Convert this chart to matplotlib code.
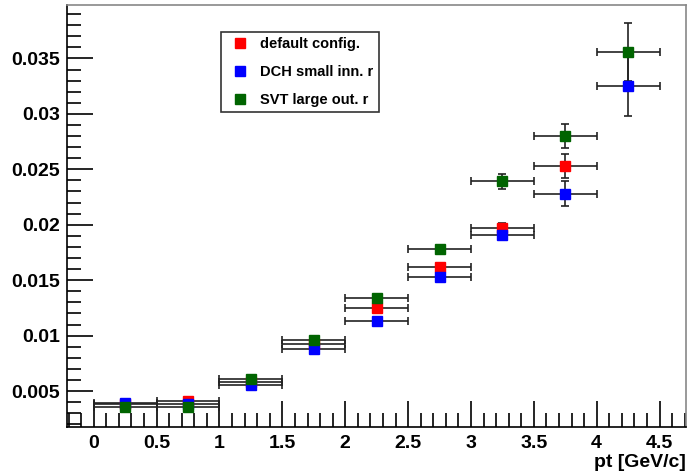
import matplotlib
matplotlib.use('Agg')
import matplotlib.pyplot as plt
from matplotlib.ticker import MultipleLocator, FormatStrFormatter
from matplotlib.lines import Line2D
import numpy as np

plt.rcParams['font.family'] = ['Liberation Sans', 'DejaVu Sans']
plt.rcParams['font.weight'] = 'bold'

# pt bins (centres) and half widths
pt = [0.25, 0.75, 1.25, 1.75, 2.25, 2.75, 3.25, 3.75, 4.25]
pt_err = [0.25] * 9

# default config. (no point in the last bin)
red_y = [0.0038, 0.0041, 0.0058, 0.0092, 0.0125, 0.0162, 0.0197, 0.0253]
red_err = [0.0002, 0.0002, 0.0002, 0.0002, 0.0002, 0.0003, 0.0005, 0.0011]

# DCH small inn. r
blue_y = [0.0039, 0.0038, 0.0055, 0.0088, 0.0113, 0.0153, 0.0191, 0.0228, 0.0325]
blue_err = [0.0002, 0.0002, 0.0002, 0.0002, 0.0002, 0.0003, 0.0005, 0.0011, 0.0027]

# SVT large out. r
green_y = [0.0036, 0.0036, 0.0061, 0.0096, 0.0134, 0.0178, 0.0239, 0.0280, 0.0356]
green_err = [0.0002, 0.0002, 0.0002, 0.0002, 0.0002, 0.0003, 0.0007, 0.0011, 0.0026]

labels = ['default config.', 'DCH small inn. r', 'SVT large out. r']
colors = ['#ff0000', '#0000ff', '#006400']

fig = plt.figure(figsize=(6.88, 4.74), dpi=100)
ax = fig.add_axes([0.097, 0.099, 0.9, 0.89])

series = [(red_y, red_err), (blue_y, blue_err), (green_y, green_err)]
for (y, yerr), col in zip(series, colors):
    n = len(y)
    ax.errorbar(pt[:n], y, xerr=pt_err[:n], yerr=yerr, fmt='s', color=col,
                markersize=6.5, ecolor='#222222', elinewidth=1.2,
                capsize=3, capthick=1.2)

ax.set_xlim(-0.215, 4.71)
ax.set_ylim(0.00175, 0.0398)

ax.xaxis.set_major_locator(MultipleLocator(0.5))
ax.xaxis.set_minor_locator(MultipleLocator(0.1))
ax.yaxis.set_major_locator(MultipleLocator(0.005))
ax.yaxis.set_minor_locator(MultipleLocator(0.001))
ax.xaxis.set_major_formatter(FormatStrFormatter('%g'))
ax.yaxis.set_major_formatter(FormatStrFormatter('%g'))

ax.tick_params(which='both', direction='in', top=False, right=False,
               labelsize=14, width=1.2)
ax.tick_params(axis='y', pad=5)
ax.tick_params(axis='x', pad=6)
ax.tick_params(which='major', length=19)
ax.tick_params(which='minor', length=10)
for s in ax.spines.values():
    s.set_linewidth(1.2)
ax.spines['top'].set_color('#888888')
ax.spines['right'].set_color('#888888')

ax.set_xlabel('pt [GeV/c]', loc='right', fontsize=14, fontweight='bold', labelpad=1)

handles = [Line2D([], [], marker='s', ls='', color=c, markersize=6.5) for c in colors]
leg = ax.legend(handles, labels, loc='upper left', bbox_to_anchor=(0.249, 0.936),
                borderaxespad=0, fontsize=10.5, frameon=True, fancybox=False,
                edgecolor='black', handletextpad=0.45, borderpad=0.35,
                labelspacing=0.95, handlelength=1.9)
leg.get_frame().set_linewidth(1.2)
for t in leg.get_texts():
    t.set_fontweight('bold')

fig.savefig('out.png', dpi=100)
